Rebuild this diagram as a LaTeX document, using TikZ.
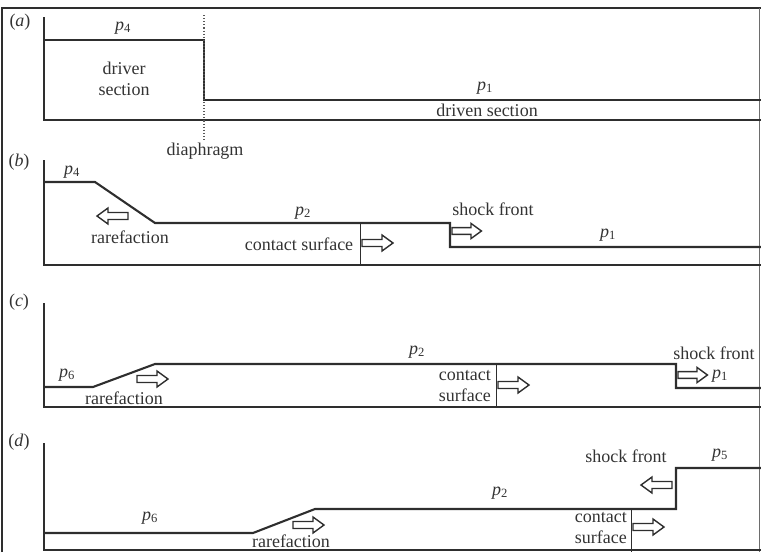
\documentclass[tikz,border=0pt]{standalone}
\usepackage{fontspec}
\setmainfont{Liberation Serif}
\definecolor{ink}{HTML}{2E2E2E}
\definecolor{txt}{HTML}{333333}
\newcommand{\pp}[1]{\textit{p}\textsubscript{#1}}
\begin{document}
\begin{tikzpicture}[x=1pt,y=-1pt,
  wall/.style={draw=ink,line width=2.1pt},
  thinwall/.style={draw=ink,line width=1pt},
  lbl/.style={text=txt,font=\fontsize{18}{21}\selectfont,inner sep=0pt},
  harrow/.pic={\draw[draw=ink,line width=1.4pt,fill=white,line join=miter]
     (0,-3.5) -- (20,-3.5) -- (20,-8) -- (31,0) -- (20,8) -- (20,3.5) -- (0,3.5) -- cycle;}]
\useasboundingbox (0,0) rectangle (761,552);
% frame
\draw[ink,line width=2.5pt] (2,552) -- (2,8) -- (761,8);
\draw[ink!70,line width=0.8pt] (759.5,8) -- (759.5,552);

% ---------- (a)
\node[lbl] (la) at (20,22) {(\textit{a})};
\draw[wall] (44,17) -- (44,120) -- (761,120);
\draw[wall] (44,40) -- (204,40) -- (204,100) -- (761,100);
\draw[ink!80,dotted,line width=1.1pt] (204,15) -- (204,142);
\node[lbl] (ap4) at (123,28) {\pp{4}};
\node[lbl,align=center] (driver) at (124,79) {driver\\section};
\node[lbl] (diaph) at (205,151) {diaphragm};
\node[lbl] (ap1) at (485,88) {\pp{1}};
\node[lbl] (driven) at (487,110) {driven section};

% ---------- (b)
\node[lbl] (lb) at (19,162) {(\textit{b})};
\draw[wall] (44,160) -- (44,265) -- (761,265);
\draw[wall] (44,182) -- (95,182) -- (155,223) -- (450,223) -- (450,247) -- (761,247);
\draw[thinwall] (360,223) -- (360,265);
\node[lbl] (bp4) at (72,172) {\pp{4}};
\node[lbl] (bp2) at (303,213) {\pp{2}};
\node[lbl] (bp1) at (608,235) {\pp{1}};
\node[lbl] (brare) at (130,237) {rarefaction};
\node[lbl] (bcont) at (299,244) {contact surface};
\node[lbl] (bshock) at (493,209) {shock front};
\pic[xscale=-1] at (128,216) {harrow};
\pic at (362,243) {harrow};
\pic[scale=0.95] at (452,231) {harrow};

% ---------- (c)
\node[lbl] (lc) at (19,302) {(\textit{c})};
\draw[wall] (44,303) -- (44,407) -- (761,407);
\draw[wall] (44,387) -- (93,387) -- (155,364) -- (676,364) -- (676,388) -- (761,388);
\draw[thinwall] (496,364) -- (496,407);
\node[lbl] (cp6) at (67,375) {\pp{6}};
\node[lbl] (cp2) at (417,352) {\pp{2}};
\node[lbl,anchor=west] (cp1) at (712,376) {\pp{1}};
\node[lbl] (crare) at (124,398) {rarefaction};
\node[lbl,align=right,anchor=east] (ccont) at (491,386) {contact\\surface};
\node[lbl] (cshock) at (714,353) {shock front};
\pic at (137,379) {harrow};
\pic at (498,385) {harrow};
\pic[scale=0.95] at (678,375) {harrow};

% ---------- (d)
\node[lbl] (ld) at (19,442) {(\textit{d})};
\draw[wall] (44,443) -- (44,550) -- (761,550);
\draw[wall] (44,533) -- (253,533) -- (315,509) -- (676,509) -- (676,468) -- (761,468);
\draw[thinwall] (631,509) -- (631,552);
\node[lbl] (dp6) at (150,518) {\pp{6}};
\node[lbl] (dp2) at (500,493) {\pp{2}};
\node[lbl] (dp5) at (720,455) {\pp{5}};
\node[lbl] (drare) at (291,541) {rarefaction};
\node[lbl,align=right,anchor=east] (dcont) at (627,528) {contact\\surface};
\node[lbl] (dshock) at (626,456) {shock front};
\pic at (293,525) {harrow};
\pic at (633,527) {harrow};
\pic[xscale=-1] at (672,485) {harrow};
\end{tikzpicture}
\end{document}
